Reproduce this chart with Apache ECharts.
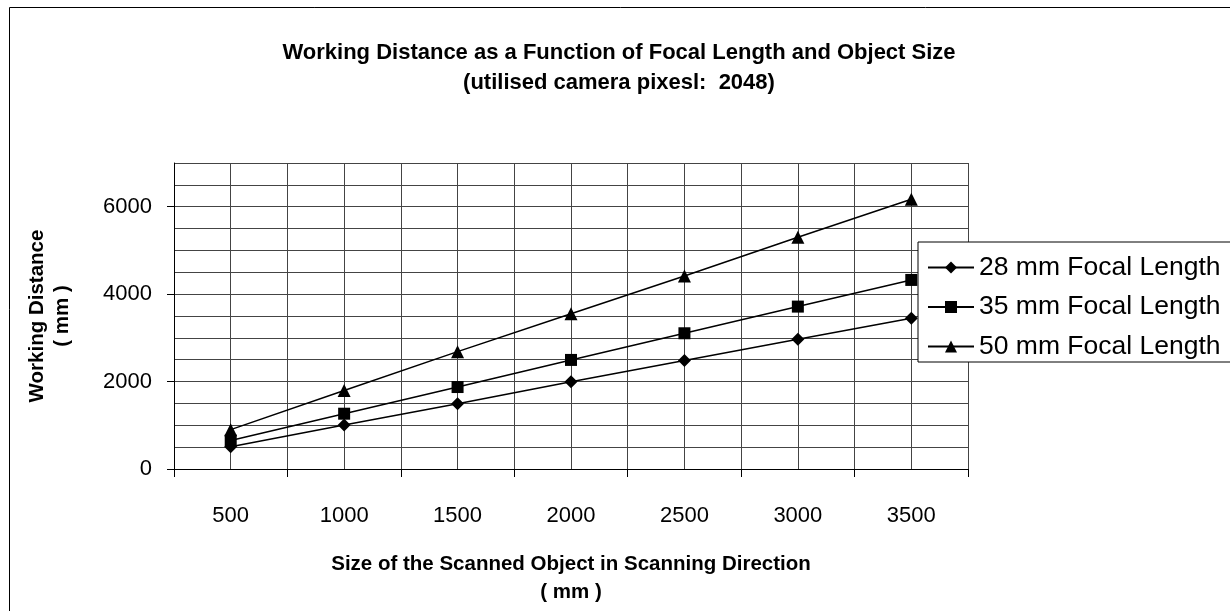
<!DOCTYPE html>
<html>
<head>
<meta charset="utf-8">
<script src="https://cdn.jsdelivr.net/npm/echarts@6/dist/echarts.min.js"></script>
<style>
html,body{margin:0;padding:0;background:#fff;}
#chart{width:1230px;height:611px;}
</style>
</head>
<body>
<div id="chart"></div>
<script>
// ---- data ----
const objectSizes = [500, 1000, 1500, 2000, 2500, 3000, 3500];
const focal28 = [510, 1005, 1495, 1995, 2480, 2970, 3450];
const focal35 = [650, 1265, 1875, 2495, 3105, 3715, 4325];
const focal50 = [900, 1795, 2685, 3550, 4415, 5300, 6170];
const seriesNames = ['28 mm Focal Length', '35 mm Focal Length', '50 mm Focal Length'];
const yTickLabels = [0, 2000, 4000, 6000];
const xTickBoundaries = [250, 750, 1250, 1750, 2250, 2750, 3250, 3750];
const titleText = 'Working Distance as a Function of Focal Length and Object Size\n(utilised camera pixesl:  2048)';
const xTitle = 'Size of the Scanned Object in Scanning Direction\n( mm )';
const yTitle = 'Working Distance\n( mm )';

const titleFamily = '"Liberation Sans", Arial, sans-serif';
const baseFamily = '"Liberation Sans", Arial, sans-serif';

function pairs(vals) { return objectSizes.map((s, i) => [s, vals[i]]); }

const chart = echarts.init(document.getElementById('chart'), null, {renderer: 'canvas'});
const lineCommon = {
  type: 'line',
  showSymbol: true,
  xAxisIndex: 0,
  yAxisIndex: 0,
  lineStyle: {color: '#000', width: 1.5},
  itemStyle: {color: '#000'},
  emphasis: {disabled: true},
  animation: false,
  z: 3
};
const gridLineStyle = {color: '#444', width: 1};
chart.setOption({
  backgroundColor: '#fff',
  animation: false,
  title: {
    text: titleText,
    left: 614,
    top: 33,
    textAlign: 'center',
    textStyle: {fontFamily: titleFamily, fontWeight: 'bold', fontSize: 22, lineHeight: 30, color: '#000'}
  },
  graphic: [{
    type: 'rect',
    shape: {x: 9.5, y: 7.5, width: 1300, height: 700},
    style: {fill: 'none', stroke: '#000', lineWidth: 1},
    silent: true,
    z: -10
  }],
  legend: {
    orient: 'vertical',
    left: 918,
    top: 242,
    padding: [12, 30, 2, 9],
    itemWidth: 46,
    itemHeight: 15,
    itemGap: 12.5,
    backgroundColor: '#fff',
    borderColor: '#000',
    borderWidth: 1,
    borderRadius: 0,
    textStyle: {fontFamily: baseFamily, fontSize: 26.5, color: '#000', lineHeight: 26},
    data: seriesNames
  },
  grid: {left: 174, right: 262, top: 163, bottom: 142, containLabel: false},
  xAxis: [{
    type: 'value',
    min: 250,
    max: 3750,
    interval: 250,
    name: xTitle,
    nameLocation: 'middle',
    nameGap: 81,
    nameTextStyle: {fontFamily: titleFamily, fontWeight: 'bold', fontSize: 20.5, lineHeight: 28, color: '#000'},
    axisLine: {show: true, lineStyle: {color: '#000', width: 1}},
    axisTick: {show: true, length: 8, customValues: xTickBoundaries, lineStyle: {color: '#000'}},
    axisLabel: {show: true, customValues: objectSizes, margin: 36, fontFamily: baseFamily, fontSize: 22, color: '#000',
      formatter: v => String(v)},
    splitLine: {show: false},
    z: 2
  }, {
    type: 'value',
    position: 'top',
    min: 250,
    max: 3750,
    interval: 250,
    axisLine: {show: false},
    axisTick: {show: false},
    axisLabel: {show: false},
    splitLine: {show: true, lineStyle: gridLineStyle},
    z: 1
  }],
  yAxis: [{
    type: 'value',
    min: 0,
    max: 7000,
    interval: 500,
    name: yTitle,
    nameLocation: 'middle',
    nameRotate: 90,
    nameGap: 99,
    nameTextStyle: {fontFamily: titleFamily, fontWeight: 'bold', fontSize: 20.5, lineHeight: 25, color: '#000'},
    axisLine: {show: true, lineStyle: {color: '#000', width: 1}},
    axisTick: {show: true, length: 7, customValues: yTickLabels, lineStyle: {color: '#000'}},
    axisLabel: {show: true, customValues: yTickLabels, margin: 22, fontFamily: baseFamily, fontSize: 22, color: '#000',
      formatter: v => String(v)},
    splitLine: {show: false},
    z: 2
  }, {
    type: 'value',
    position: 'right',
    min: 0,
    max: 7000,
    interval: 500,
    axisLine: {show: false},
    axisTick: {show: false},
    axisLabel: {show: false},
    splitLine: {show: true, lineStyle: gridLineStyle},
    z: 1
  }],
  series: [
    Object.assign({}, lineCommon, {name: seriesNames[0], symbol: 'diamond', symbolSize: 13, data: pairs(focal28)}),
    Object.assign({}, lineCommon, {name: seriesNames[1], symbol: 'rect', symbolSize: 12, data: pairs(focal35)}),
    Object.assign({}, lineCommon, {name: seriesNames[2], symbol: 'triangle', symbolSize: 13, data: pairs(focal50)})
  ]
});
</script>
</body>
</html>
